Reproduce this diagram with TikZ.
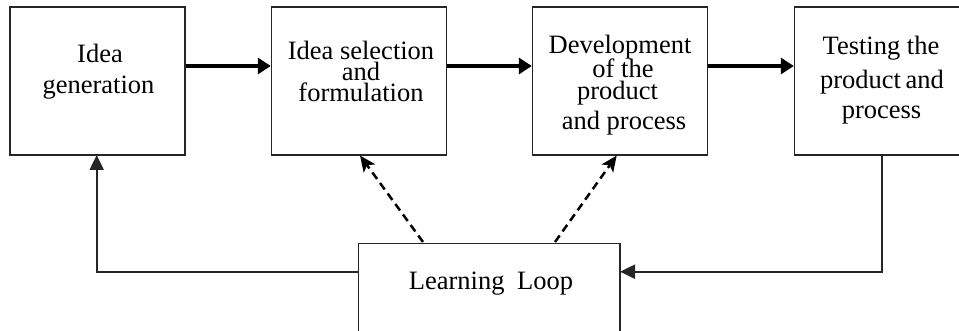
\documentclass[tikz,border=0pt]{standalone}
\usepackage{fontspec}
\setmainfont{Liberation Serif}
\usetikzlibrary{arrows.meta}
\begin{document}
\begin{tikzpicture}[x=1pt,y=-1pt,
  box/.style={draw=black!85, line width=1.4pt, minimum width=175pt, minimum height=148pt, inner sep=0pt},
  lbl/.style={anchor=base, inner sep=0pt, font=\fontsize{26.5}{30}\selectfont},
  flow/.style={line width=3.2pt, -{Triangle[length=13pt,width=16pt]}},
  back/.style={draw=black!85, line width=2pt, -{Triangle[length=15pt,width=14pt]}},
  hint/.style={line width=2.5pt, dash pattern=on 8pt off 5pt, -{Stealth[length=16pt,width=14pt,inset=4pt]}}]
\useasboundingbox (0,0) rectangle (959,331);
\clip (0,0) rectangle (959,331);
\fill[white] (0,0) rectangle (959,331);

% stage boxes
\node[box] (b1) at (97.5,81) {};
\node[box] (b2) at (359,81) {};
\node[box] (b3) at (620,81) {};
\node[box] (b4) at (882,81) {};
% learning loop box (runs past the lower edge)
\draw[draw=black!85, line width=1.4pt] (358.3,243.3) coordinate (lnw) rectangle (620,345) coordinate (lse);
\coordinate (lw) at (358.3,271.7);
\coordinate (le) at (620,271.7);
\coordinate (ltop1) at (423,242);
\coordinate (ltop2) at (555,242);

% labels
\node[lbl] (t1a) at (100,62.7) {Idea};
\node[lbl] (t1b) at (98.5,94) {generation};
\node[lbl] (t2a) at (361,59.3) {Idea selection};
\node[lbl] (t2b) at (361,80.7) {and};
\node[lbl] (t2c) at (361,101.7) {formulation};
\node[lbl] (t3a) at (620,53.3) {Development};
\node[lbl] (t3b) at (623,77.3) {of the};
\node[lbl] (t3c) at (617.5,99.3) {product};
\node[lbl] (t3d) at (624,129.3) {and process};
\node[lbl] (t4a) at (881,55) {Testing the};
\node[lbl] (t4b) at (882,88.3) {product\hspace{-2pt} and};
\node[lbl] (t4c) at (881.5,118.3) {process};
\node[lbl] (tl) at (491,290) {Learning\hspace{6pt} Loop};

% forward flow
\coordinate (row) at (0,66);
\draw[flow] (b1.east |- row) -- (b2.west |- row);
\draw[flow] (b2.east |- row) -- (b3.west |- row);
\draw[flow] (b3.east |- row) -- (b4.west |- row);

% feedback loop
\coordinate (c4) at (881.7,155);
\draw[back] (c4) |- (le);
\coordinate (c1) at (96.7,155);
\draw[back] (lw) -| (c1);

% dashed influence arrows
\coordinate (d2) at (360,155.5);
\coordinate (d3) at (616.7,155.5);
\draw[hint] (ltop1) -- (d2);
\draw[hint] (ltop2) -- (d3);
\end{tikzpicture}
\end{document}
